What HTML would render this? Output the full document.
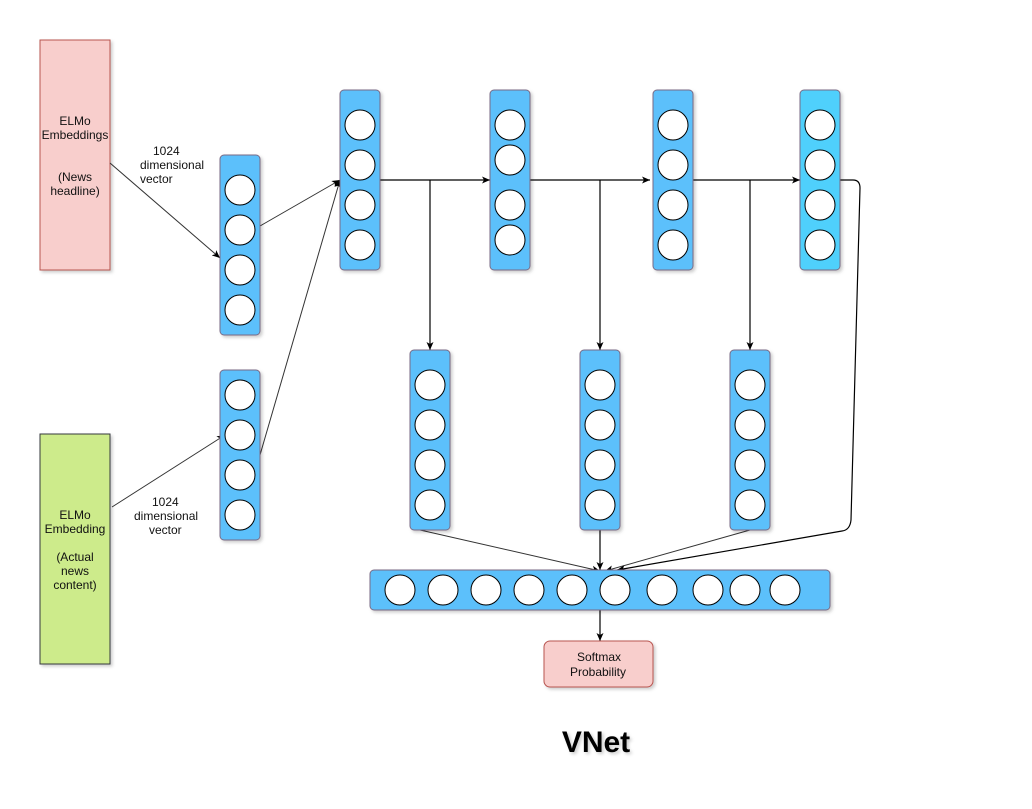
<!DOCTYPE html>
<html><head><meta charset="utf-8"><style>
html,body{margin:0;padding:0;background:#fff}
svg{display:block}
text{font-family:"Liberation Sans",sans-serif}
</style></head><body>
<svg width="1032" height="809" viewBox="0 0 1032 809" xmlns="http://www.w3.org/2000/svg">
<defs>
<marker id="a" markerWidth="10" markerHeight="10" refX="8" refY="5" orient="auto" markerUnits="userSpaceOnUse">
<path d="M0,1.5 L8,5 L0,8.5 L2,5 Z" fill="#000"/></marker>
<filter id="s" x="-20%" y="-20%" width="140%" height="140%"><feDropShadow dx="2" dy="2" stdDeviation="1.5" flood-color="#000" flood-opacity="0.2"/></filter>
</defs>

<!-- input boxes -->
<rect x="40" y="40" width="70" height="230" fill="#f8cecc" stroke="#b85450" filter="url(#s)"/>
<text font-size="12" text-anchor="middle" fill="#111"><tspan x="75" y="125">ELMo</tspan><tspan x="75" y="139">Embeddings</tspan><tspan x="75" y="181">(News</tspan><tspan x="75" y="195">headline)</tspan></text>
<rect x="40" y="434" width="70" height="230" fill="#cdeb8b" stroke="#36393d" filter="url(#s)"/>
<text font-size="12" text-anchor="middle" fill="#111"><tspan x="75" y="519">ELMo</tspan><tspan x="75" y="533">Embedding</tspan><tspan x="75" y="561">(Actual</tspan><tspan x="75" y="575">news</tspan><tspan x="75" y="589">content)</tspan></text>

<text font-size="12" fill="#111"><tspan x="153" y="155">1024</tspan><tspan x="140" y="169">dimensional</tspan><tspan x="140" y="183">vector</tspan></text>
<text font-size="12" fill="#111"><tspan x="152" y="506">1024</tspan><tspan x="134" y="520">dimensional</tspan><tspan x="149" y="534">vector</tspan></text>

<!-- edges -->
<g stroke="#333" stroke-width="1" fill="none">
<line x1="110" y1="163" x2="220" y2="258" marker-end="url(#a)"/>
<line x1="260" y1="226" x2="340" y2="180" marker-end="url(#a)"/>
<line x1="260" y1="455" x2="340" y2="180" marker-end="url(#a)"/>
<line x1="112" y1="507" x2="225" y2="435" marker-end="url(#a)"/>
<line x1="420" y1="530" x2="600" y2="571" marker-end="url(#a)"/>
<line x1="750" y1="530" x2="605" y2="571" marker-end="url(#a)"/>
</g>
<g stroke="#000" stroke-width="1.2" fill="none">
<line x1="380" y1="180" x2="490" y2="180" marker-end="url(#a)"/>
<line x1="430" y1="180" x2="430" y2="350" marker-end="url(#a)"/>
<line x1="530" y1="180" x2="650" y2="180" marker-end="url(#a)"/>
<line x1="600" y1="180" x2="600" y2="350" marker-end="url(#a)"/>
<line x1="693" y1="180" x2="800" y2="180" marker-end="url(#a)"/>
<line x1="750" y1="180" x2="750" y2="350" marker-end="url(#a)"/>
<path d="M840,180 L853,180 Q860,180 860,188 L851,520 Q850,530 842,531 L617,570" marker-end="url(#a)"/>
<line x1="600" y1="530" x2="600" y2="570" marker-end="url(#a)"/>
<line x1="600" y1="610" x2="600" y2="641" marker-end="url(#a)"/>
</g>

<!-- columns -->
<g stroke="#7a6a85" stroke-width="1" filter="url(#s)">
<rect x="220" y="155" width="40" height="180" rx="4" fill="#5bc0fb"/>
<rect x="220" y="370" width="40" height="170" rx="4" fill="#5bc0fb"/>
<rect x="340" y="90" width="40" height="180" rx="4" fill="#5bc0fb"/>
<rect x="490" y="90" width="40" height="180" rx="4" fill="#5bc0fb"/>
<rect x="653" y="90" width="40" height="180" rx="4" fill="#5bc0fb"/>
<rect x="800" y="90" width="40" height="180" rx="4" fill="#4fd0fc"/>
<rect x="410" y="350" width="40" height="180" rx="4" fill="#5bc0fb"/>
<rect x="580" y="350" width="40" height="180" rx="4" fill="#5bc0fb"/>
<rect x="730" y="350" width="40" height="180" rx="4" fill="#5bc0fb"/>
<rect x="370" y="570" width="460" height="40" rx="4" fill="#5bc0fb"/>
</g>
<g fill="#fff" stroke="#000" stroke-width="1">
<circle cx="240" cy="190" r="15"/><circle cx="240" cy="230" r="15"/><circle cx="240" cy="270" r="15"/><circle cx="240" cy="310" r="15"/>
<circle cx="240" cy="395" r="15"/><circle cx="240" cy="435" r="15"/><circle cx="240" cy="475" r="15"/><circle cx="240" cy="515" r="15"/>
<circle cx="360" cy="125" r="15"/><circle cx="360" cy="165" r="15"/><circle cx="360" cy="205" r="15"/><circle cx="360" cy="245" r="15"/>
<circle cx="510" cy="125" r="15"/><circle cx="510" cy="160" r="15"/><circle cx="510" cy="205" r="15"/><circle cx="510" cy="240" r="15"/>
<circle cx="673" cy="125" r="15"/><circle cx="673" cy="165" r="15"/><circle cx="673" cy="205" r="15"/><circle cx="673" cy="245" r="15"/>
<circle cx="820" cy="125" r="15"/><circle cx="820" cy="165" r="15"/><circle cx="820" cy="205" r="15"/><circle cx="820" cy="245" r="15"/>
<circle cx="430" cy="385" r="15"/><circle cx="430" cy="425" r="15"/><circle cx="430" cy="465" r="15"/><circle cx="430" cy="505" r="15"/>
<circle cx="600" cy="385" r="15"/><circle cx="600" cy="425" r="15"/><circle cx="600" cy="465" r="15"/><circle cx="600" cy="505" r="15"/>
<circle cx="750" cy="385" r="15"/><circle cx="750" cy="425" r="15"/><circle cx="750" cy="465" r="15"/><circle cx="750" cy="505" r="15"/>
<circle cx="400" cy="590" r="15"/><circle cx="443" cy="590" r="15"/><circle cx="486" cy="590" r="15"/><circle cx="529" cy="590" r="15"/><circle cx="572" cy="590" r="15"/><circle cx="615" cy="590" r="15"/><circle cx="662" cy="590" r="15"/><circle cx="708" cy="590" r="15"/><circle cx="745" cy="590" r="15"/><circle cx="785" cy="590" r="15"/>
</g>

<rect x="544" y="641" width="109" height="46" rx="6" fill="#f8cecc" stroke="#b85450" filter="url(#s)"/>
<text font-size="12" text-anchor="middle" fill="#111"><tspan x="599" y="661">Softmax</tspan><tspan x="598" y="676">Probability</tspan></text>

<text x="596" y="752" font-size="30" font-weight="bold" text-anchor="middle" fill="#000" filter="url(#s)">VNet</text>
</svg>
</body></html>
